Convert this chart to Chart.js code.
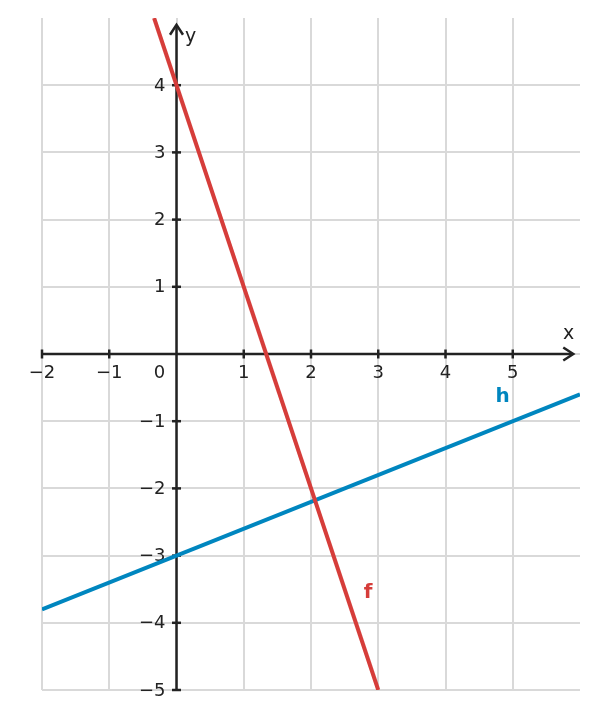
<!DOCTYPE html>
<html>
<head>
<meta charset="utf-8">
<script src="https://cdn.jsdelivr.net/npm/chart.js"></script>
<style>
  html,body{margin:0;padding:0;background:#fff;}
  #wrap{width:598px;height:719px;}
</style>
</head>
<body>
<div id="wrap"><canvas id="c"></canvas></div>
<script>
// data
const fX = [-0.333, 3];
const fY = [5, -5];
const hX = [-2, 6];
const hY = [-3.8, -0.6];
const xTicks = [-2, -1, 1, 2, 3, 4, 5];
const yTicks = [-5, -4, -3, -2, -1, 1, 2, 3, 4];
const fLabel = {x: 2.85, y: -3.56, text: 'f'};
const hLabel = {x: 4.85, y: -0.63, text: 'h'};

const RED = '#d63d3a', BLUE = '#0086bf', INK = '#222';
const FONT = '"DejaVu Sans", sans-serif';

const pts = (xs, ys) => xs.map((x, i) => ({x, y: ys[i]}));

const axesPlugin = {
  id: 'axes',
  beforeDatasetsDraw(chart){
    const {ctx, scales:{x, y}} = chart;
    const x0 = x.getPixelForValue(0), y0 = y.getPixelForValue(0);
    ctx.save();
    ctx.strokeStyle = INK; ctx.lineWidth = 2.5; ctx.lineCap = 'butt';
    // x axis
    const xs = x.getPixelForValue(-2), xe = x.getPixelForValue(5.9);
    ctx.beginPath(); ctx.moveTo(xs, y0); ctx.lineTo(xe - 1, y0); ctx.stroke();
    // y axis
    const ys = y.getPixelForValue(-5), ye = y.getPixelForValue(4.9);
    ctx.beginPath(); ctx.moveTo(x0, ys); ctx.lineTo(x0, ye + 1); ctx.stroke();
    // arrows
    ctx.lineJoin = 'miter';
    ctx.beginPath(); ctx.moveTo(xe - 10, y0 - 6.5); ctx.lineTo(xe, y0); ctx.lineTo(xe - 10, y0 + 6.5); ctx.stroke();
    ctx.beginPath(); ctx.moveTo(x0 - 6.5, ye + 10); ctx.lineTo(x0, ye); ctx.lineTo(x0 + 6.5, ye + 10); ctx.stroke();
    // ticks
    ctx.font = '18px ' + FONT; ctx.fillStyle = INK;
    ctx.textAlign = 'center'; ctx.textBaseline = 'middle';
    xTicks.forEach(v => {
      const px = x.getPixelForValue(v);
      ctx.beginPath(); ctx.moveTo(px, y0 - 4.5); ctx.lineTo(px, y0 + 4.5); ctx.stroke();
      ctx.fillText(String(v).replace('-', '\u2212'), px, y0 + 19);
    });
    ctx.textAlign = 'right';
    yTicks.forEach(v => {
      const py = y.getPixelForValue(v);
      ctx.beginPath(); ctx.moveTo(x0 - 4.5, py); ctx.lineTo(x0 + 4.5, py); ctx.stroke();
      ctx.fillText(String(v).replace('-', '\u2212'), x0 - 11, py + 1);
    });
    ctx.textAlign = 'center';
    ctx.fillText('0', x0 - 17, y0 + 19);
    // axis names
    ctx.font = '19px ' + FONT;
    ctx.fillText('x', x.getPixelForValue(5.83), y0 - 20);
    ctx.fillText('y', x0 + 14, y.getPixelForValue(4.72));
    ctx.restore();
  },
  afterDatasetsDraw(chart){
    const {ctx, scales:{x, y}} = chart;
    ctx.save();
    ctx.font = 'bold 20px ' + FONT;
    ctx.textAlign = 'center'; ctx.textBaseline = 'middle';
    ctx.fillStyle = RED; ctx.fillText(fLabel.text, x.getPixelForValue(fLabel.x), y.getPixelForValue(fLabel.y));
    ctx.fillStyle = BLUE; ctx.fillText(hLabel.text, x.getPixelForValue(hLabel.x), y.getPixelForValue(hLabel.y));
    ctx.restore();
  }
};

new Chart(document.getElementById('c'), {
  type: 'scatter',
  data: {
    datasets: [
      {data: pts(fX, fY), showLine: true, borderColor: RED, borderWidth: 4, pointRadius: 0},
      {data: pts(hX, hY), showLine: true, borderColor: BLUE, borderWidth: 4, pointRadius: 0}
    ]
  },
  options: {
    responsive: true, maintainAspectRatio: false, animation: false,
    layout: {padding: {left: 42, right: 18, top: 18, bottom: 29}},
    plugins: {legend: {display: false}, tooltip: {enabled: false}},
    scales: {
      x: {
        type: 'linear', min: -2, max: 6,
        ticks: {stepSize: 1, display: false},
        border: {display: false},
        grid: {drawTicks: false, lineWidth: 2,
          color: c => c.tick && c.tick.value === 6 ? 'rgba(0,0,0,0)' : '#d9d9d9'}
      },
      y: {
        type: 'linear', min: -5, max: 5,
        ticks: {stepSize: 1, display: false},
        border: {display: false},
        grid: {drawTicks: false, lineWidth: 2,
          color: c => c.tick && c.tick.value === 5 ? 'rgba(0,0,0,0)' : '#d9d9d9'}
      }
    }
  },
  plugins: [axesPlugin]
});
</script>
</body>
</html>
